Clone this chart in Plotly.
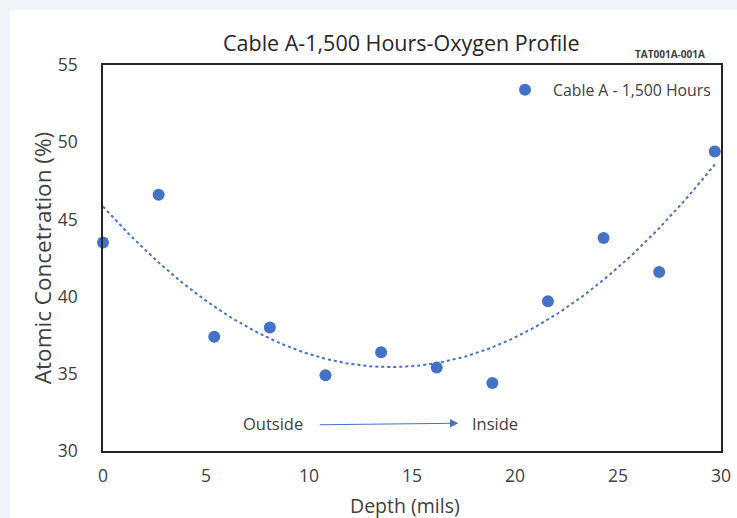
import numpy as np
import plotly.graph_objects as go

# Oxygen profile measurements through the cable wall
depth_mils = [0.0, 2.7, 5.4, 8.1, 10.8, 13.5, 16.2, 18.9, 21.6, 24.3, 27.0, 29.7]
oxygen_pct = [43.5, 46.6, 37.4, 38.0, 34.9, 36.4, 35.4, 34.4, 39.7, 43.8, 41.6, 49.4]

series_name = "Cable A - 1,500 Hours"
chart_title = "Cable A-1,500 Hours-Oxygen Profile"
doc_id = "TAT001A-001A"
x_title = "Depth (mils)"
y_title = "Atomic Concetration (%)"
x_ticks = [0, 5, 10, 15, 20, 25, 30]
y_ticks = [30, 35, 40, 45, 50, 55]

BLUE = "#4472C4"
TEXT = "#404040"
FONT = "'Open Sans', Lato, sans-serif"

# Second-order polynomial trendline fitted to the measurements
coef = np.polyfit(depth_mils, oxygen_pct, 2)
xt = np.linspace(min(depth_mils), max(depth_mils), 200)
yt = np.polyval(coef, xt)

fig = go.Figure()
fig.add_trace(go.Scatter(
    x=xt, y=yt, mode="lines", showlegend=False, hoverinfo="skip",
    line=dict(color=BLUE, width=2, dash="dot"),
))
fig.add_trace(go.Scatter(
    x=depth_mils, y=oxygen_pct, mode="markers", name=series_name,
    marker=dict(color=BLUE, size=12),
    cliponaxis=False,
))

W, H = 737, 518
L, R, T, B = 103, 16, 65, 67
pw, ph = W - L - R, H - T - B

def px(x):
    return (x - L) / pw

def py(y):
    return (H - B - y) / ph

# light frame strips along the top and left edges
frame = "#eef4f8"
shapes = [
    dict(type="rect", xref="paper", yref="paper", layer="below",
         x0=px(0), x1=px(W), y0=py(0), y1=py(10), fillcolor=frame, line_width=0),
    dict(type="rect", xref="paper", yref="paper", layer="below",
         x0=px(0), x1=px(10), y0=py(0), y1=py(H), fillcolor=frame, line_width=0),
]

annotations = [
    dict(text=chart_title, xref="paper", yref="paper", x=px(401), y=py(42),
         showarrow=False, font=dict(family=FONT, size=21.5, color="#262626"),
         xanchor="center", yanchor="middle"),
    dict(text="<b>" + doc_id + "</b>", xref="paper", yref="paper", x=px(707), y=py(54),
         showarrow=False, font=dict(family=FONT, size=10, color="#404040"),
         xanchor="right", yanchor="middle"),
    dict(text=x_title, xref="paper", yref="paper", x=px(405), y=py(505),
         showarrow=False, font=dict(family=FONT, size=19.5, color=TEXT),
         xanchor="center", yanchor="middle"),
    dict(text="Outside", x=8.25, y=31.75, xref="x", yref="y", showarrow=False,
         font=dict(family=FONT, size=16.5, color=TEXT)),
    dict(text="Inside", x=19.05, y=31.8, xref="x", yref="y", showarrow=False,
         font=dict(family=FONT, size=16.5, color=TEXT)),
    dict(text="", x=17.25, y=31.8, ax=10.45, ay=31.7, xref="x", yref="y",
         axref="x", ayref="y", showarrow=True, arrowhead=2, arrowsize=1.4,
         arrowwidth=1.2, arrowcolor=BLUE),
]

axis_common = dict(
    showgrid=False, zeroline=False, showline=True, mirror=True,
    linecolor="#262626", linewidth=1.5, ticks="", automargin=False,
    tickfont=dict(family=FONT, size=17.5, color=TEXT),
)

fig.update_layout(
    width=W, height=H,
    margin=dict(l=L, r=R, t=T, b=B),
    paper_bgcolor="white", plot_bgcolor="white",
    showlegend=True,
    legend=dict(x=px(497), y=py(73), xanchor="left", yanchor="top",
                bgcolor="rgba(0,0,0,0)", itemwidth=46,
                font=dict(family=FONT, size=15.8, color=TEXT)),
    xaxis=dict(range=[0, 30], tickvals=x_ticks, ticklabelstandoff=8,
               **axis_common),
    yaxis=dict(range=[30, 55], tickvals=y_ticks, ticklabelstandoff=20,
               title=dict(text=y_title, standoff=0,
                          font=dict(family=FONT, size=22.5, color=TEXT)),
               **axis_common),
    shapes=shapes,
    annotations=annotations,
)

fig.write_html("out.html")
